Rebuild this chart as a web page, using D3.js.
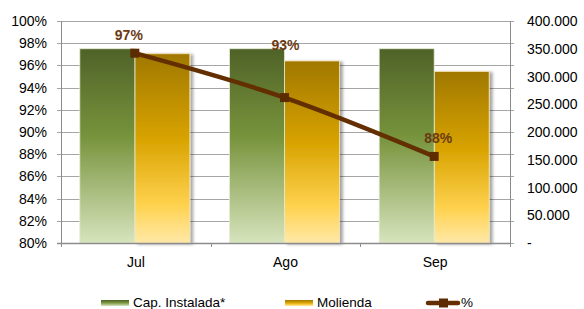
<!DOCTYPE html>
<head>
<meta charset="utf-8">
<script src="https://cdn.jsdelivr.net/npm/d3@7"></script>
<style>
  body { margin: 0; background: #fff; }
  svg text { font-family: "Liberation Sans", Arial, sans-serif; fill: #000; }
</style>
</head>
<body>
<svg width="584" height="309"></svg>
<script>
var months = ['Jul', 'Ago', 'Sep']
var capInstalada = [350000, 350000, 350000]
var molienda = [341000, 328000, 309000]
var pct = [97.1, 93.1, 87.8]
var pctLabels = ['97%', '93%', '88%']
var pctTicks = d3.range(80, 101, 2)
var volTicks = d3.range(0, 400001, 50000)

var svg = d3.select('svg')
  , pLeft = 61, pRight = 510, pTop = 21, pBottom = 243

var x = d3.scaleBand().domain(months).range([pLeft, pRight])
var yPct = d3.scaleLinear().domain([80, 100]).range([pBottom, pTop])
var yVol = d3.scaleLinear().domain([0, 400000]).range([pBottom, pTop])

var defs = svg.append('defs')
function grad(id, stops) {
  var g = defs.append('linearGradient').attr('id', id)
    .attr('x1', 0).attr('y1', 0).attr('x2', 0).attr('y2', 1)
  stops.forEach(function (s) {
    g.append('stop').attr('offset', s[0]).attr('stop-color', s[1])
  })
}
grad('green', [[0, '#4f6228'], [0.45, '#77933c'], [1, '#d7e4bd']])
grad('gold', [[0, '#a07800'], [0.45, '#d8a300'], [0.8, '#ffd24f'], [1, '#ffe9a8']])
var f = defs.append('filter').attr('id', 'shadow').attr('x', -0.2).attr('width', 1.4)
f.append('feDropShadow').attr('dx', 3).attr('dy', 1).attr('stdDeviation', 1.5)
  .attr('flood-color', '#000').attr('flood-opacity', 0.35)

// gridlines
svg.append('g').selectAll('line').data(pctTicks).enter().append('line')
  .attr('x1', pLeft - 4).attr('x2', pRight + 4)
  .attr('y1', function (d) { return Math.round(yPct(d)) + 0.5 })
  .attr('y2', function (d) { return Math.round(yPct(d)) + 0.5 })
  .attr('stroke', '#a6a6a6')

// axis lines
svg.append('line').attr('x1', pLeft + 0.5).attr('x2', pLeft + 0.5).attr('y1', pTop).attr('y2', pBottom)
  .attr('stroke', '#8c8c8c')
svg.append('line').attr('x1', pRight + 0.5).attr('x2', pRight + 0.5).attr('y1', pTop).attr('y2', pBottom + 4)
  .attr('stroke', '#8c8c8c')

// bars
var bw = 55
var g = svg.append('g')
g.selectAll('.mol').data(molienda).enter().append('rect')
  .attr('x', function (d, i) { return x(months[i]) + x.bandwidth() / 2 - 1 })
  .attr('y', function (d) { return yVol(d) })
  .attr('width', bw).attr('height', function (d) { return pBottom - yVol(d) })
  .attr('fill', 'url(#gold)').attr('stroke', '#f4e3b0').attr('stroke-width', 0.8)
  .attr('filter', 'url(#shadow)')
g.selectAll('.cap').data(capInstalada).enter().append('rect')
  .attr('x', function (d, i) { return x(months[i]) + x.bandwidth() / 2 - 1 - bw })
  .attr('y', function (d) { return yVol(d) })
  .attr('width', bw).attr('height', function (d) { return pBottom - yVol(d) })
  .attr('fill', 'url(#green)').attr('stroke', '#e4ebd4').attr('stroke-width', 0.8)

// bottom axis
svg.append('line').attr('x1', pLeft - 4).attr('x2', pRight).attr('y1', pBottom + 0.5).attr('y2', pBottom + 0.5)
  .attr('stroke', '#8c8c8c').attr('stroke-width', 1.5)
svg.append('g').selectAll('line').data([pLeft, pLeft + x.step(), pLeft + 2 * x.step(), pRight]).enter().append('line')
  .attr('x1', function (d) { return Math.round(d) + 0.5 }).attr('x2', function (d) { return Math.round(d) + 0.5 })
  .attr('y1', pBottom).attr('y2', pBottom + 4).attr('stroke', '#8c8c8c')

// tick labels
svg.append('g').selectAll('text').data(pctTicks).enter().append('text')
  .attr('x', 47).attr('y', function (d) { return yPct(d) + 5 })
  .attr('text-anchor', 'end').attr('font-size', 14)
  .text(function (d) { return d + '%' })
svg.append('g').selectAll('text').data(volTicks).enter().append('text')
  .attr('x', 527).attr('y', function (d) { return yVol(d) + 5 })
  .attr('font-size', 14)
  .text(function (d) { return d === 0 ? '-' : d3.format(',')(d).replace(/,/g, '.') })
svg.append('g').selectAll('text').data(months).enter().append('text')
  .attr('x', function (d) { return x(d) + x.bandwidth() / 2 })
  .attr('y', 267).attr('text-anchor', 'middle').attr('font-size', 14)
  .text(function (d) { return d })

// line
var cx = function (d, i) { return x(months[i]) + x.bandwidth() / 2 - 1 }
var line = d3.line().x(cx).y(function (d) { return yPct(d) }).curve(d3.curveMonotoneX)
svg.append('path').datum(pct).attr('d', line)
  .attr('fill', 'none').attr('stroke', '#632f00').attr('stroke-width', 4.5)
svg.append('g').selectAll('rect').data(pct).enter().append('rect')
  .attr('x', function (d, i) { return cx(d, i) - 4.5 }).attr('y', function (d) { return yPct(d) - 4.5 })
  .attr('width', 9).attr('height', 9).attr('fill', '#5c2c00')
var lblOff = [[-6, -13], [1, -48], [4, -13]]
svg.append('g').selectAll('text').data(pctLabels).enter().append('text')
  .attr('x', function (d, i) { return cx(d, i) + lblOff[i][0] })
  .attr('y', function (d, i) { return yPct(pct[i]) + lblOff[i][1] })
  .attr('text-anchor', 'middle').attr('font-size', 14).attr('font-weight', 'bold')
  .style('fill', '#6b3a12')
  .text(function (d) { return d })

// legend
var legend = svg.append('g')
var items = [
  {x: 101, label: 'Cap. Instalada*', fill: 'url(#green)'},
  {x: 285, label: 'Molienda', fill: 'url(#gold)'}
]
items.forEach(function (it) {
  legend.append('rect').attr('x', it.x).attr('y', 300).attr('width', 28).attr('height', 6).attr('fill', it.fill)
  legend.append('text').attr('x', it.x + 32).attr('y', 307).attr('font-size', 13.5).text(it.label)
})
legend.append('line').attr('x1', 428).attr('x2', 458).attr('y1', 303).attr('y2', 303)
  .attr('stroke', '#632f00').attr('stroke-width', 4.5).attr('stroke-linecap', 'round')
legend.append('rect').attr('x', 439).attr('y', 298.5).attr('width', 9).attr('height', 9).attr('fill', '#5c2c00')
legend.append('text').attr('x', 461).attr('y', 307).attr('font-size', 13.5).text('%')
</script>
</body>
